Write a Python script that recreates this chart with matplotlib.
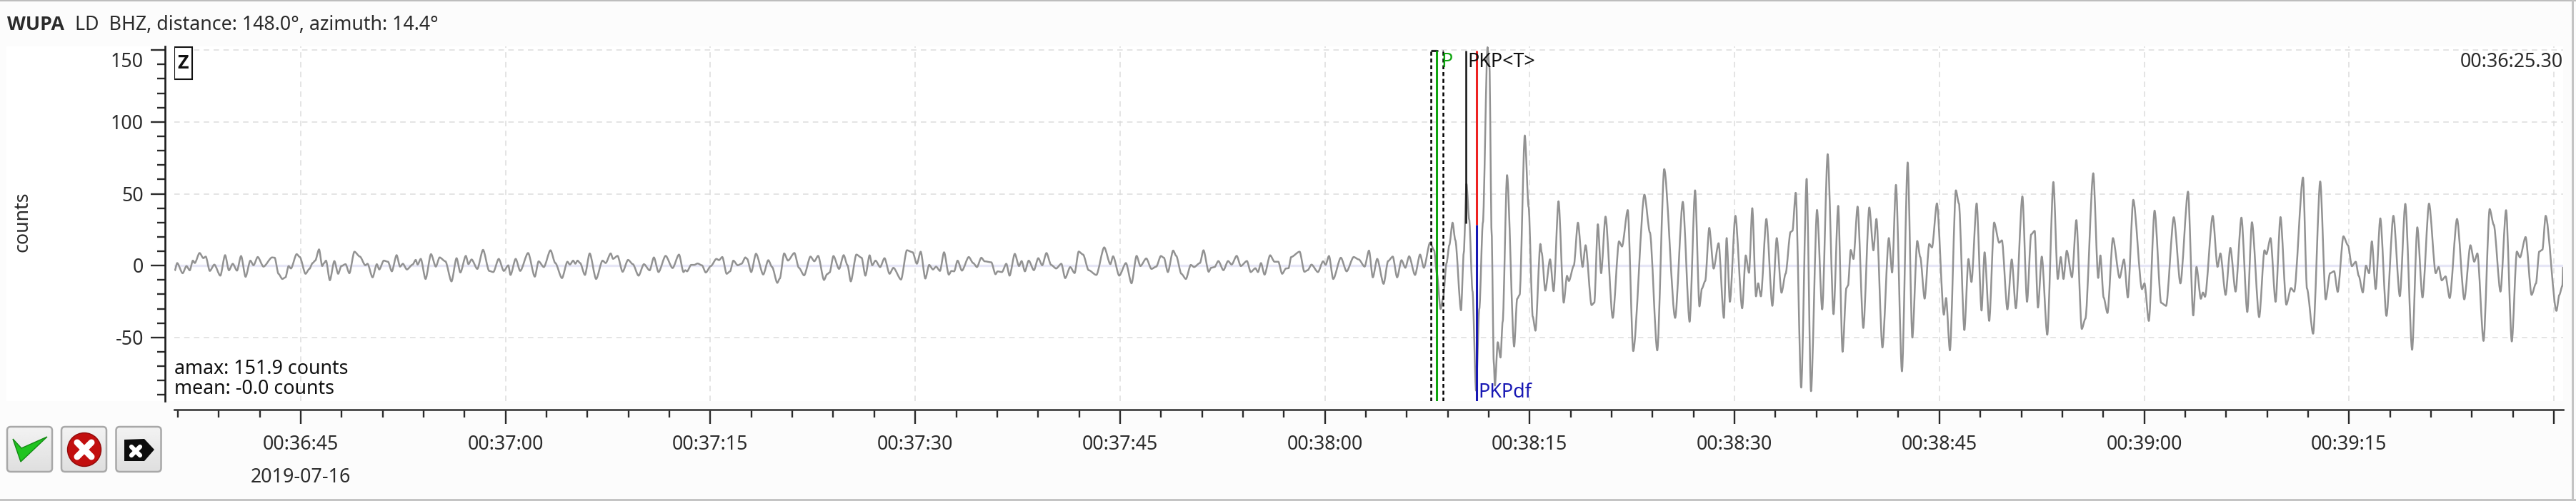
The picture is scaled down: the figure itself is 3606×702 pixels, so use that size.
import matplotlib
matplotlib.use('Agg')
import matplotlib.pyplot as plt
import numpy as np
from matplotlib.patches import FancyBboxPatch, Polygon, Circle, Rectangle, PathPatch
from matplotlib.path import Path

plt.rcParams['font.family'] = ['Noto Sans', 'DejaVu Sans']

# Trace: seconds after 00:36:00, and counts
time_a = [35.77, 35.95, 36.35, 36.63, 36.87, 37.10, 37.24, 37.59, 37.87, 38.04, 38.34, 38.67, 39.11, 39.46, 39.74,
          40.02, 40.33, 40.63, 40.96, 41.31, 41.54, 41.85, 42.27, 42.90, 43.09, 43.37, 43.65, 43.88, 44.11, 44.28,
          44.70, 44.93, 45.35, 45.63, 45.87, 46.06, 46.34, 46.57, 46.71, 46.85, 47.13, 47.46, 47.74, 47.97, 48.28,
          48.56, 48.93, 49.33, 49.73, 49.89, 50.26, 50.57, 50.75, 51.08, 51.39, 51.67, 52.02, 52.27, 52.48, 52.77,
          53.19, 53.42, 53.56, 53.79, 54.14, 54.54, 54.89, 55.17, 55.59, 56.04, 56.41, 56.69, 57.09, 57.28, 57.51,
          57.93, 58.35, 58.80, 59.10, 59.50, 59.87, 60.20, 60.36, 60.74, 61.07, 61.65, 62.14, 62.42, 62.80, 63.29,
          63.64, 64.13, 64.53, 64.71, 64.95, 65.11, 65.27, 65.46, 65.81, 66.16, 66.63, 67.10, 67.33, 67.70, 67.87,
          68.20, 68.57, 68.97, 69.32, 69.74]
counts_a = [-3.5, 1.8, -5.3, -0.3, -3.3, 3.5, 1.8, 8.8, 5.2, 6.3, -3.7, 0.7, -7, 7.3, -3.3,
            1.3, -3.5, 6.7, -7.8, 3.5, 0.2, 6, -0.7, 5.7, 5.5, -5.7, -9.3, -8.2, -0.3, -2,
            8, 6, -5.7, -2.3, 1.8, 3.5, 11.3, -0.3, 1.8, 3.5, -10.2, 3.2, -5.7, -0.3, 1,
            -5.3, 9.7, 6.3, 0.2, 1.3, -8.2, 1, -2.7, 3.5, 2.7, -4, 7.3, -0.7, 1.3, -2.7,
            0.7, 4, 0.7, 4.7, -9.3, 8, -0.7, 5.7, 3, -11, 5.2, -4.8, 6.8, 1, 4.3,
            -2.3, 11, -3.7, -4.5, 4.7, -3.7, 0.2, -6.5, 4.7, -3.7, 8.8, -7.7, 3, -1, 10.7,
            1.8, -8.7, 2.7, 0.7, 3.5, 1.3, 3.5, 1.8, -6.5, 8.5, -9.3, 3.5, 1.8, 8.5, 4.7,
            6.8, -4.3, 4, 1, -7]

time_b = [70.13, 70.55, 70.86, 71.20, 71.72, 72.23, 72.70, 73.03, 73.16, 73.29, 73.59, 73.82, 74.06, 74.38, 74.66,
          75.03, 75.44, 75.63, 75.87, 76.19, 76.44, 76.68, 77.00, 77.28, 77.56, 77.69, 77.99, 78.34, 78.87, 79.24,
          79.52, 79.90, 80.08, 80.40, 80.68, 81.15, 81.48, 81.86, 82.33, 82.61, 82.89, 83.32, 83.54, 83.73, 84.01,
          84.42, 84.76, 85.04, 85.28, 85.69, 86.07, 86.35, 86.66, 86.85, 87.09, 87.43, 87.75, 88.12, 88.40, 88.96,
          89.39, 89.81, 90.12, 90.40, 90.74, 91.02, 91.30, 91.53, 91.81, 92.11, 92.46, 92.65, 92.85, 93.10, 93.42,
          93.92, 94.24, 94.52, 94.84, 95.08, 95.57, 95.88, 96.03, 96.35, 96.67, 96.91, 97.29, 97.60, 97.79, 98.03,
          98.31, 98.69]
counts_b = [1, -3.3, 5.7, -4.5, 6.8, -1.7, 7.7, -4.5, -3.2, -4, 0.5, 0.5, 1.5, 0.2, -4.8,
            -0.3, 4.7, 3.8, 6, -5.7, -4, 3.5, 0.2, 1.3, 5.7, 4.7, -4.5, 8.3, -6.2, 3.8,
            -1, -12, -9, 8.5, 3.5, 8.8, -1.5, -6.8, 6.3, 3, 6.8, -10, -6, -4.8, 6.7,
            -2.3, 7.3, 0.2, -11, 7.7, 5.5, -7, 7.2, 0.2, 3.5, -1, 5.2, -5.7, -1.5, -9.7,
            10.7, 9.3, 1.3, 9.7, -9, 0.5, -2.7, -0.7, -3.7, 9.3, -6.3, -3.7, -4, 3.5, -3.5,
            6, 1.8, -1, 5.5, 3, 2.3, -6, -4, -4.5, 1.3, -7, 8.2, -0.3, 3.2, -4,
            3.5, -3.2]

time_c = [99.01, 99.30, 99.61, 99.95, 100.32, 100.70, 100.98, 101.35, 101.67, 101.97, 102.29, 102.70, 103.26, 103.84,
          104.29, 104.49, 104.94, 105.43, 105.84, 106.21, 106.49, 106.92, 107.30, 107.65, 107.99, 108.21, 108.50,
          108.89, 109.11, 109.49, 109.82, 110.18, 110.42, 110.85, 111.11, 111.49, 111.67, 111.92, 112.20, 112.57,
          112.91, 113.17, 113.54, 113.84, 114.29, 114.57, 114.91, 115.10, 115.32, 115.58, 115.99, 116.31, 116.59,
          116.87, 117.15, 117.34, 117.53, 118.15, 118.50, 118.74, 119.02, 119.49, 119.87, 120.05, 120.30, 120.61,
          121.17, 121.59, 122.11, 122.48, 122.91, 123.23, 123.51, 123.83, 124.30, 124.63, 124.97, 125.29, 125.61,
          125.89, 126.17, 126.60, 126.97, 127.25]
counts_c = [5.2, 0.2, 8.8, 0.5, -2, 1.3, -8.7, -1, -5.2, 9.8, 7.7, -3.2, -6.5, 12.7,
            1, 6.5, -7, 1.8, -12.3, 6.8, -0.3, 5, -2.3, -0.7, 6.7, 5.5, -4.5,
            10.5, 6.8, -5.7, -9.3, 0.5, -1, 1.8, 10.7, -4.3, -1.5, -1, 3.2, -3.2,
            3.2, 0.7, 6.8, -0.3, 3.2, -4.5, -1.8, -4.5, 1.8, -6.3, 7.2, 2.7, 2.7,
            -5.7, -2, -1.8, 6, 9.7, -4.3, -3.2, 0.7, -4.5, 3, 0.5, 6.7, -9.3,
            5.5, -4, 6, 4.3, -0.7, 10.5, -8.2, 4.7, -12.7, 3.2, 6.3, -8.2, 3.8,
            -1.5, 6.5, -6.5, 7.7, -1.5]

time_d = [127.70, 128.00, 128.20, 128.47, 128.65, 128.91, 129.11, 129.35, 129.55, 129.97, 130.17, 130.37, 130.57,
          130.81, 131.07, 131.31, 131.57, 131.91, 132.05, 132.21, 132.37, 132.45, 132.66, 132.86, 133.02, 133.34,
          133.86, 134.08, 134.26, 134.64, 134.92, 135.22, 135.42, 135.78, 135.88, 136.14, 136.49, 136.75, 137.11,
          137.49, 137.73, 137.87, 138.23, 138.53, 138.87, 139.09, 139.53, 139.73, 139.99, 140.23, 140.55, 141.08,
          141.54, 141.76, 142.18, 142.58, 143.40, 143.80, 144.34, 144.85, 145.65, 146.21, 146.71, 147.11, 147.43,
          147.61, 147.85, 148.15, 148.47, 148.83, 149.22, 149.42, 149.66, 150.06, 150.56, 150.82, 151.06, 151.30]
counts_d = [16, 10.7, -5.3, -30.2, -23, 1.8, 14.2, 29.9, 17.8, -31.1, 8.9, 56.9, 32,
            -17.8, -87, -30, 30, 152, 138.6, 23, -67.5, -83.5, -53.3, -64, -39, 63,
            -56.3, -23.1, -20.4, 90.6, 40.9, -35.5, -45.3, 15.1, 8.9, -17.4, 4.4, -17.8, 44.8,
            -25.8, -7.1, -10.7, 0, 29.9, -0.9, 14.2, -27.5, -25.8, 28.8, -5.3, 34.1, -36.4,
            16.9, 13.3, 38.7, -59.5, 49.4, 23.1, -59, 67.2, -36.4, 44.4, -39.1, 52.4, -28.4,
            -16, -10.7, 26.3, -2.1, 15.6, -36.4, 19.2, -25.2, 34.7, -29.7, 7.1, -5, 40]

time_e = [151.57, 151.73, 151.93, 152.33, 152.77, 153.09, 153.44, 153.74, 154.10, 154.24, 154.48, 154.88, 155.28,
          155.60, 156.04, 156.42, 156.82, 157.25, 157.59, 157.91, 158.19, 158.31, 158.51, 158.71, 159.01, 159.43,
          159.87, 160.17, 160.39, 160.83, 161.30, 161.54, 161.82, 162.26, 162.68, 163.02, 163.38, 163.60, 163.92,
          164.26, 164.46, 164.82, 165.33, 165.49, 165.77, 166.21, 166.43, 166.83, 167.13, 167.35, 167.73, 168.09,
          168.31, 168.65, 169.01, 169.38, 169.58, 169.98, 170.30, 170.60, 171.08, 171.42, 171.72, 171.98, 172.22,
          172.50, 172.90, 173.35, 173.67, 173.89, 174.09, 174.33, 174.71, 175.03, 175.43, 175.69, 176.27, 176.63,
          176.79, 177.03, 177.31, 177.71, 178.20, 178.52, 178.80, 179.20, 179.84, 180.02, 180.34, 180.76, 181.24,
          181.60, 182.17]
counts_e = [-21.4, -12.3, -21.4, 32.5, -28, 19.2, -18.9, -5.6, 23.4, 24.2, 50.7, -84.9, 60.4,
            -87.4, 38.8, -30.5, 77.6, -33.8, 41.6, -60, -15.6, -13.9, 10.9, 4.6, 41.1, -43.4,
            40.5, 10.6, 32.5, -57, 19.2, -4.8, 56.2, -73.6, 71.8, -50.1, 17.2, 6, -23,
            15.1, 12.6, 43.3, -34.2, -22.5, -59, 52.4, 43.3, -44.9, 4.6, -11.4, 43.3, -31.3,
            9.3, -38.5, 30, 15.9, 17.6, -30.5, 4.3, -29.7, 48.2, -25.2, 21.7, 24.2, -29.2,
            6.3, -48.1, 58.2, -9.3, 6, -9.3, 10.4, -8.1, 31.7, -44.1, -37, 64.3, -8.6,
            7.1, -22.2, -33, 19.2, -8.6, 4.3, -22.2, 45.8, -16.4, -12.3, -38.5, 38.3, -25.9,
            -28, 33.7]

time_f = [182.65, 183.21, 183.59, 183.83, 184.15, 184.30, 184.45, 185.02, 185.37, 185.58, 185.96, 186.31, 186.69,
          187.12, 187.55, 187.89, 188.42, 188.81, 188.95, 189.25, 189.62, 189.98, 190.41, 190.75, 190.98, 191.63,
          191.92, 192.37, 192.89, 193.29, 193.61, 193.91, 194.17, 194.59, 194.92, 195.21, 195.49, 195.71, 196.01,
          196.24, 196.47, 196.67, 196.95, 197.29, 197.74, 198.25, 198.72, 199.12, 199.62, 200.00, 200.38, 200.86,
          201.35, 201.56, 201.79, 202.07, 202.37, 202.91, 203.44, 203.89, 204.17, 204.40, 204.85, 205.30, 205.60,
          206.09, 206.50, 206.92, 207.29, 207.52, 207.93, 208.37, 208.69, 208.93, 209.16, 209.40, 210.19, 210.40,
          210.62, 210.68]
counts_f = [-12.4, 51.5, -34.7, -0.9, -23.1, -18.7, -21.7, 34.7, -0.9, 8.5, -20.4, 12.4, -18.1,
            33.4, -32.3, 30.2, -35.9, 10.7, 8, 19.2, -25.2, 33.8, -27.2, -15.6, -18.1, 61.3,
            -16, -47.4, 58.6, -23.5, -5.3, -3.9, -18.3, 20.4, 14.2, -0.4, 2.7, -7.1, -18.7,
            0, -5.3, 16.9, -16.3, 32.9, -35, 34.7, -21.3, 43, -58.6, 26.7, -22.2, 43.2,
            -5.3, -0.9, -10.3, -7.5, -22.6, 32.5, -23.5, 14.2, 2.7, 8.5, -52.4, 39.4, 28.4,
            -18.1, 38.6, -52.8, 9.8, 5.7, 19.9, -20.4, -12.4, 9.8, 11, 34.7, -31.5, -20.4,
            -14.2, -0.9]

trace_time = np.concatenate([time_a, time_b, time_c, time_d, time_e, time_f])
trace_counts = np.concatenate([counts_a, counts_b, counts_c, counts_d, counts_e, counts_f])

# Axis ticks
major_x = [45, 60, 75, 90, 105, 120, 135, 150, 165, 180, 195, 210]
major_x_labels = ['00:36:45', '00:37:00', '00:37:15', '00:37:30', '00:37:45', '00:38:00',
                  '00:38:15', '00:38:30', '00:38:45', '00:39:00', '00:39:15', '']
minor_x = np.arange(36, 211, 3)
major_y = [-50, 0, 50, 100, 150]
minor_y = np.arange(-90, 151, 10)

# Picks, seconds after 00:36:00
pick_window = [127.78, 128.63]
pick_p = 128.20
pick_pkp_t = 130.31
pick_pkpdf = 131.13
pick_split = 28.5

W, H = 3606, 702
TEXT = '#2b2b2b'
FS = 19.3

fig = plt.figure(figsize=(W / 100, H / 100), dpi=100, facecolor='#fcfcfc')


def frame(x0, y0, x1, y1):
    # pixel box measured from the top left -> figure fractions
    return [x0 / W, 1 - y1 / H, (x1 - x0) / W, (y1 - y0) / H]


def rounded_trace(t, c, bend=0.27):
    # same vertices as the readings, joined with bezier flanks so the peaks are not straight zigzags
    dt = np.diff(t)
    verts = [(t[0], c[0])]
    codes = [Path.MOVETO]
    for i in range(len(dt)):
        verts += [(t[i] + bend * dt[i], c[i]), (t[i + 1] - bend * dt[i], c[i + 1]), (t[i + 1], c[i + 1])]
        codes += [Path.CURVE4] * 3
    return Path(verts, codes)


# window chrome, in pixels
bg = fig.add_axes([0, 0, 1, 1], zorder=0)
bg.set_xlim(0, W)
bg.set_ylim(H, 0)
bg.axis('off')
bg.add_patch(Rectangle((9, 65), 3579, 497, facecolor='white', edgecolor='none'))
bg.add_patch(Rectangle((0, 0), W, 2, facecolor='#bdbdbd', edgecolor='none'))
bg.add_patch(Rectangle((0, 699), W, 3, facecolor='#c4c4c4', edgecolor='none'))
bg.add_patch(Rectangle((3600, 0), 3, H, facecolor='#c4c4c4', edgecolor='none'))

gradient = np.linspace(1, 0, 64).reshape(-1, 1)
for x0 in [10, 86, 162.5]:
    box = FancyBboxPatch((x0, 598), 63, 63, boxstyle='round,pad=0,rounding_size=5',
                         facecolor='none', edgecolor='#a8a8a8', linewidth=1.8, zorder=3)
    bg.add_patch(box)
    im = bg.imshow(gradient, extent=(x0, x0 + 63, 661, 598), cmap='gray', vmin=-10.9, vmax=1.6,
                   aspect='auto', zorder=2)
    im.set_clip_path(box)
bg.set_xlim(0, W)
bg.set_ylim(H, 0)

bg.add_patch(Polygon([(18, 615), (30, 628), (66, 612), (29, 647)], facecolor='#1fc41f',
                     edgecolor='#138a13', linewidth=1, zorder=4))
bg.add_patch(Circle((118, 630), 23.5, facecolor='#c20f0f', edgecolor='#8f0a0a', linewidth=1, zorder=4))
bg.plot([108, 128], [620, 640], color='white', lw=6.5, zorder=5, solid_capstyle='round')
bg.plot([108, 128], [640, 620], color='white', lw=6.5, zorder=5, solid_capstyle='round')
bg.add_patch(Polygon([(174, 616), (202, 615), (216, 630), (202, 646), (174, 646)],
                     facecolor='#0c0c0c', edgecolor='none', zorder=4))
bg.plot([184, 196], [626, 638], color='white', lw=4.5, zorder=5, solid_capstyle='round')
bg.plot([184, 196], [638, 626], color='white', lw=4.5, zorder=5, solid_capstyle='round')

bg.text(10, 35, 'WUPA', fontsize=FS, fontweight='bold', family=['Open Sans', 'DejaVu Sans'], color=TEXT,
        ha='left', va='center')
bg.text(105, 35, 'LD  BHZ, distance: 148.0°, azimuth: 14.4°', fontsize=FS, color=TEXT, ha='left', va='center')
bg.text(32, 311, 'counts', fontsize=FS, color=TEXT, rotation=90, ha='center', va='center')

# trace axes
ax = fig.add_axes(frame(244, 65, 3588, 562), zorder=1)
ax.patch.set_alpha(0)
ax.set_xlim(35.74, 210.68)
ax.set_ylim(-94.3, 152.6)

ax.grid(True, which='major', color='#dcdcdc', linestyle=(0, (5, 4)), linewidth=1.1)
ax.set_axisbelow(True)
ax.axhline(0, color='#e6e6f6', linewidth=2.4, zorder=1)

ax.add_patch(PathPatch(rounded_trace(trace_time, trace_counts), facecolor='none', edgecolor='#929292',
                       linewidth=1.8, zorder=2, joinstyle='round'))

# picks
bottom = -94.3
ax.vlines(pick_window, bottom, 149.5, color='black', linewidth=1.8, linestyles=(0, (2.2, 1.6)), zorder=3)
ax.hlines(149.5, pick_window[0], pick_window[1], color='black', linewidth=1.8, linestyles=(0, (4, 2.5)), zorder=3)
ax.vlines(pick_p, bottom, 149.5, color='#0fa50f', linewidth=2.2, zorder=4)
ax.vlines(pick_pkp_t, pick_split + 0.8, 149.5, color='#111111', linewidth=1.8, zorder=4)
ax.vlines(pick_pkpdf, pick_split, 149.5, color='#ee2222', linewidth=2.2, zorder=4)
ax.vlines(pick_pkpdf, bottom, pick_split, color='#1818b4', linewidth=2.2, zorder=4)

ax.annotate('P', xy=(pick_p, 1), xycoords=('data', 'axes fraction'), xytext=(6, -22), textcoords='offset pixels',
            fontsize=FS, color='#0fa50f', ha='left', va='center', zorder=6)
ax.annotate('PKP<T>', xy=(pick_pkp_t, 1), xycoords=('data', 'axes fraction'), xytext=(3, -22),
            textcoords='offset pixels', fontsize=FS, color='#111111', ha='left', va='center', zorder=6)
ax.annotate('PKPdf', xy=(pick_pkpdf, 0), xycoords=('data', 'axes fraction'), xytext=(2, 12),
            textcoords='offset pixels', fontsize=FS, color='#1818b4', ha='left', va='center', zorder=6)

ax.text(1, 0.9565, '00:36:25.30', transform=ax.transAxes, fontsize=FS, color=TEXT, ha='right', va='center')
ax.text(0, 0.0905, 'amax: 151.9 counts', transform=ax.transAxes, fontsize=FS, color='#111111', ha='left', va='center')
ax.text(0, 0.0342, 'mean: -0.0 counts', transform=ax.transAxes, fontsize=FS, color='#111111', ha='left', va='center')
ax.text(12 / 3344, 1 - 24 / 497, 'Z', transform=ax.transAxes, fontsize=FS, fontweight='bold',
        family=['Open Sans', 'DejaVu Sans'], color='#111111', ha='center', va='center', zorder=6)
ax.add_patch(Rectangle((0.5 / 3344, 1 - 46 / 497), 24.5 / 3344, 45 / 497, transform=ax.transAxes,
                       facecolor='white', edgecolor='#111111', linewidth=1.5, zorder=5))

# axes styling
for side in ['top', 'right']:
    ax.spines[side].set_visible(False)
ax.spines['left'].set_position(('outward', 13 * 0.72))
ax.spines['bottom'].set_position(('outward', 12 * 0.72))
ax.spines['left'].set_linewidth(1.9)
ax.spines['bottom'].set_linewidth(1.9)
ax.spines['left'].set_color('#1c1c1c')
ax.spines['bottom'].set_color('#3a3a3a')

ax.set_xticks(major_x)
ax.set_xticklabels(major_x_labels, fontsize=FS, color=TEXT)
ax.set_xticks(minor_x, minor=True)
ax.set_yticks(major_y)
ax.set_yticklabels([])
ax.set_yticks(minor_y, minor=True)
ax.tick_params(axis='both', which='major', length=20 * 0.72, width=1.7, color='#2a2a2a')
ax.tick_params(axis='both', which='minor', length=11 * 0.72, width=1.7, color='#2a2a2a')
ax.tick_params(axis='x', which='major', pad=11)

# y labels sit a little below their ticks, the top one further still
for val in major_y:
    dy = -17 if val == 150 else -3
    ax.annotate(str(val), xy=(0, val), xycoords=('axes fraction', 'data'), xytext=(-43, dy),
                textcoords='offset pixels', fontsize=FS, color=TEXT, ha='right', va='center', annotation_clip=False)

ax.annotate('2019-07-16', xy=(45, 0), xycoords=('data', 'axes fraction'), xytext=(0, -107),
            textcoords='offset pixels', fontsize=FS, color=TEXT, ha='center', va='center', annotation_clip=False)

fig.savefig('out.png', dpi=100, facecolor=fig.get_facecolor())
